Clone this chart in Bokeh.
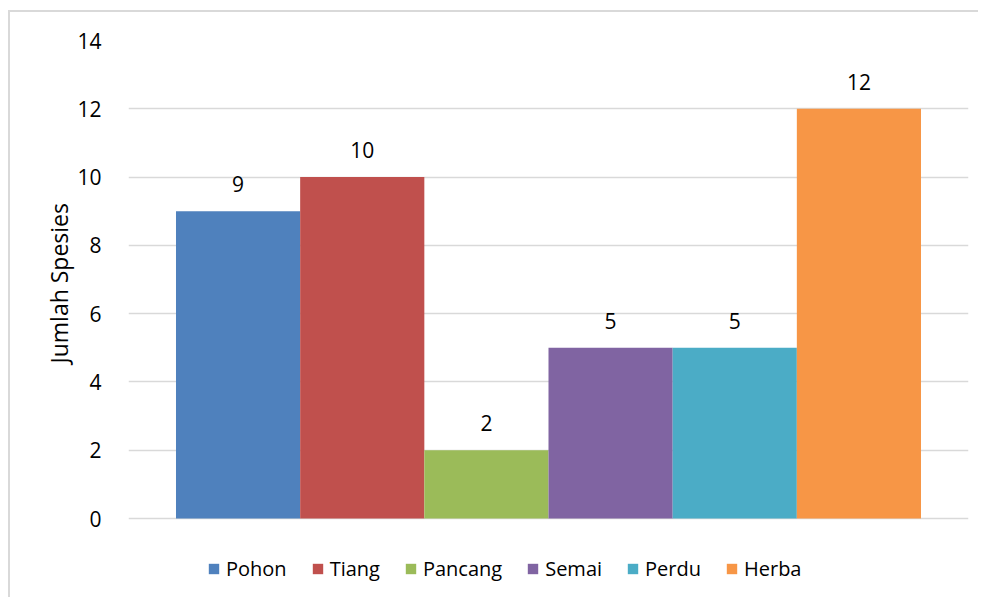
from bokeh.plotting import figure
from bokeh.models import (FactorRange, Range1d, Legend, LegendItem, LabelSet, ColumnDataSource,
                          FixedTicker, Title)
from bokeh.core.properties import value
from bokeh.embed import file_html
from bokeh.resources import INLINE

series = ["Pohon", "Tiang", "Pancang", "Semai", "Perdu", "Herba"]
values = [9, 10, 2, 5, 5, 12]
colors = ["#4F81BD", "#C0504D", "#9BBB59", "#8064A2", "#4BACC6", "#F79646"]
y_ticks = [0, 2, 4, 6, 8, 10, 12, 14]
y_title = "Jumlah Spesies"

FONT = "Open Sans"
FS_TICK = "21px"
FS_LAB = "21px"
FS_LEG = "20px"
FS_TITLE = "23px"

# canvas starts at (10, 12) in the picture (margin 8/10 + 2px border)
W, H = 970, 587
TOP, ZERO = 28, 506  # canvas y of 14 and of 0
ppu = (ZERO - TOP) / 14.0
y_start = -(H - ZERO) / ppu

p = figure(width=W, height=H, output_backend="svg", toolbar_location=None,
           x_range=FactorRange(factors=series, range_padding=0.1275),
           y_range=Range1d(y_start, 14),
           min_border_left=118, min_border_right=12, min_border_top=TOP, min_border_bottom=0)
p.styles = {"margin-left": "8px", "margin-top": "10px",
            "border-left": "2px solid #d9d9d9", "border-top": "2px solid #d9d9d9"}

source = ColumnDataSource(dict(x=series, top=values, label=[str(v) for v in values]))

renderers = []
for i, s in enumerate(series):
    r = p.vbar(x=[s], top=[values[i]], bottom=0, width=1.0, fill_color=colors[i], line_color=None)
    renderers.append(r)

labels = LabelSet(x="x", y="top", text="label", source=source, text_align="center",
                  text_baseline="middle", y_offset=27, text_font=value(FONT),
                  text_font_size=value(FS_LAB), text_color="#000000")
p.add_layout(labels)

p.xaxis.visible = False
p.xgrid.visible = False
p.ygrid.grid_line_color = "#d9d9d9"
p.ygrid.grid_line_width = 1.5
p.ygrid.ticker = FixedTicker(ticks=y_ticks)

yax = p.yaxis[0]
yax.ticker = FixedTicker(ticks=y_ticks)
yax.axis_line_color = None
yax.major_tick_line_color = None
yax.minor_tick_line_color = None
yax.major_label_text_font = FONT
yax.major_label_text_font_size = FS_TICK
yax.major_label_text_color = "#000000"
yax.major_label_standoff = 21

# y-axis title placed beside the 0..14 part of the frame
title = Title(text=y_title, align="left", offset=H - ZERO + 155, standoff=0,
              text_font=FONT, text_font_size=FS_TITLE, text_font_style="normal",
              text_color="#000000")
p.add_layout(title, "left")

p.outline_line_color = None

legend = Legend(items=[LegendItem(label=s, renderers=[renderers[i]]) for i, s in enumerate(series)],
                orientation="horizontal", location=(79, 17),
                label_text_font=FONT, label_text_font_size=FS_LEG, label_text_color="#000000",
                glyph_width=13, glyph_height=13, label_standoff=6, spacing=24,
                border_line_color=None, background_fill_alpha=0, padding=0, margin=0)
p.add_layout(legend, "center")

open("out.html", "w").write(file_html(p, INLINE))
